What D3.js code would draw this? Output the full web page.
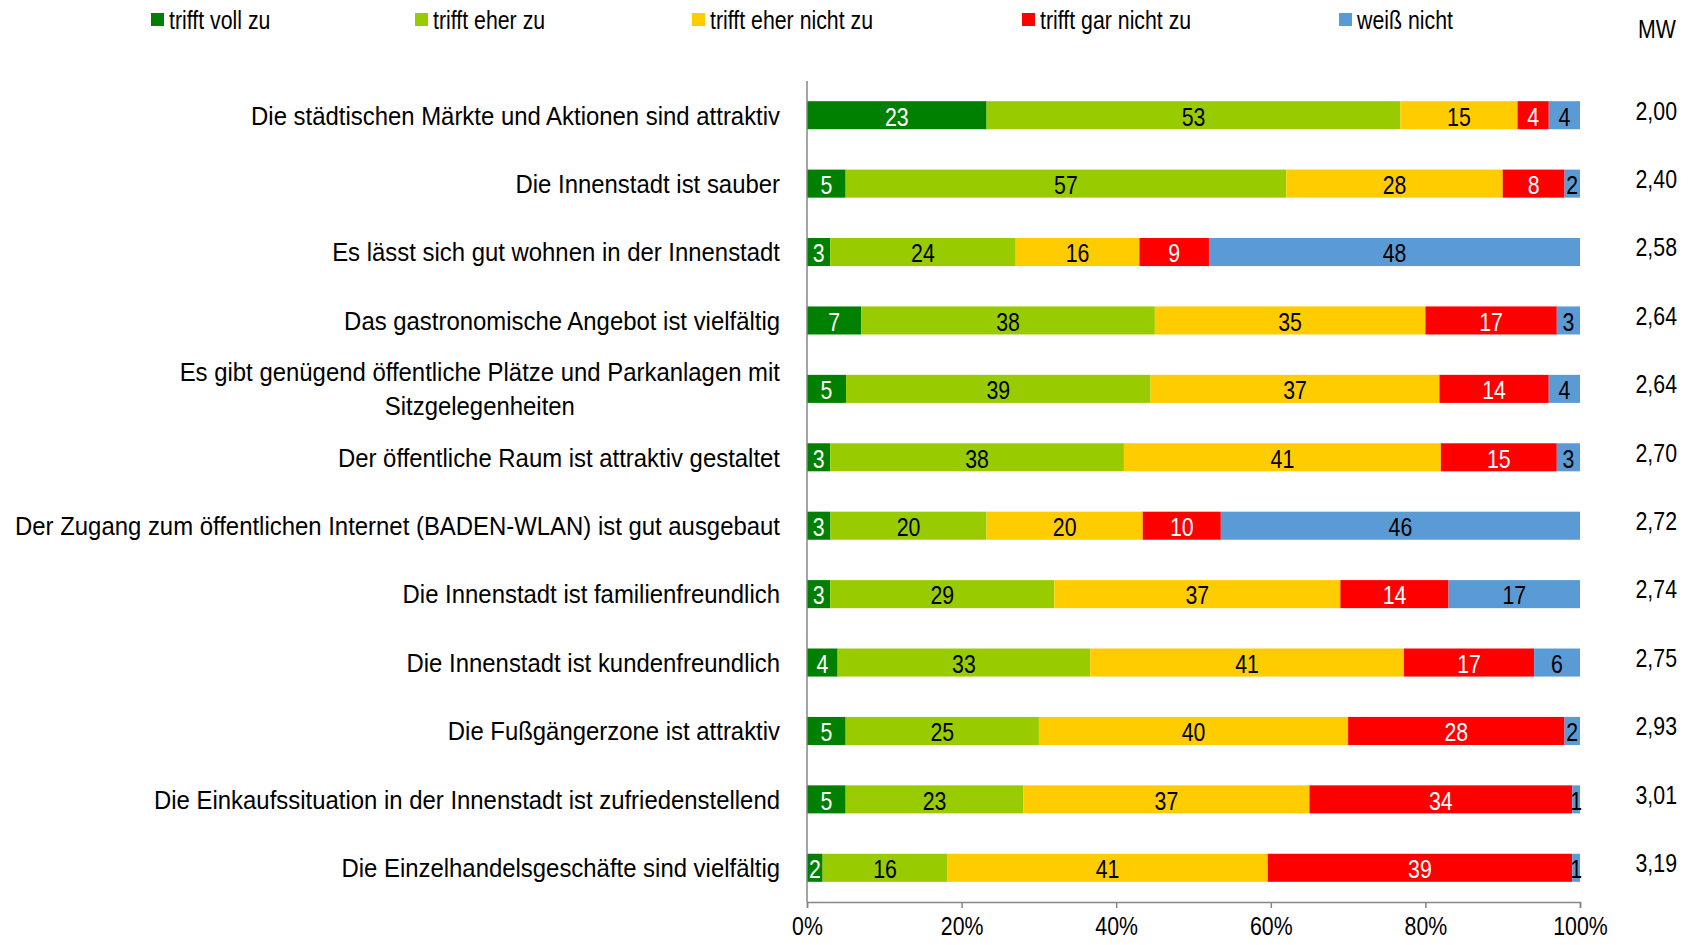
<!DOCTYPE html>
<html lang="de">
<head>
<meta charset="UTF-8">
<title>Innenstadt Bewertung</title>
<script src="https://cdn.jsdelivr.net/npm/d3@7"></script>
<style>
  body, html { margin: 0; background: #fff; }
  svg { display: block; font-family: "Liberation Sans", Arial, sans-serif; }
</style>
</head>
<body>
<svg width="1691" height="945"></svg>
<script>
const statements = [
  "Die städtischen Märkte und Aktionen sind attraktiv",
  "Die Innenstadt ist sauber",
  "Es lässt sich gut wohnen in der Innenstadt",
  "Das gastronomische Angebot ist vielfältig",
  "Es gibt genügend öffentliche Plätze und Parkanlagen mit|Sitzgelegenheiten",
  "Der öffentliche Raum ist attraktiv gestaltet",
  "Der Zugang zum öffentlichen Internet (BADEN-WLAN) ist gut ausgebaut",
  "Die Innenstadt ist familienfreundlich",
  "Die Innenstadt ist kundenfreundlich",
  "Die Fußgängerzone ist attraktiv",
  "Die Einkaufssituation in der Innenstadt ist zufriedenstellend",
  "Die Einzelhandelsgeschäfte sind vielfältig"
];
const seriesNames = ["trifft voll zu", "trifft eher zu", "trifft eher nicht zu", "trifft gar nicht zu", "weiß nicht"];
const seriesColors = ["#008000", "#99cc00", "#ffcc00", "#ff0000", "#5b9bd5"];
const labelColors = ["#fff", "#000", "#000", "#fff", "#000"];
const triffVoll      = [23, 5, 3, 7, 5, 3, 3, 3, 4, 5, 5, 2];
const triffEher      = [53, 57, 24, 38, 39, 38, 20, 29, 33, 25, 23, 16];
const triffEherNicht = [15, 28, 16, 35, 37, 41, 20, 37, 41, 40, 37, 41];
const triffGarNicht  = [4, 8, 9, 17, 14, 15, 10, 14, 17, 28, 34, 39];
const weissNicht     = [4, 2, 48, 3, 4, 3, 46, 17, 6, 2, 1, 1];
const mw = ["2,00", "2,40", "2,58", "2,64", "2,64", "2,70", "2,72", "2,74", "2,75", "2,93", "3,01", "3,19"];
const xTicks = [0, 0.2, 0.4, 0.6, 0.8, 1];

const NARROW = 0.82;      // Arial Narrow look: Liberation Sans squeezed horizontally
const NARROW_CAT = 0.92;  // category labels are a bit wider

const seriesData = [triffVoll, triffEher, triffEherNicht, triffGarNicht, weissNicht];
const rows = statements.map((s, i) => {
  const vals = seriesData.map(a => a[i]);
  const total = d3.sum(vals);
  let acc = 0;
  const segs = vals.map((v, k) => {
    const seg = {k, v, x0: acc / total, x1: (acc + v) / total};
    acc += v;
    return seg;
  });
  return {s, i, segs};
});

// text helper: places a narrowed text at (tx, ty)
function ntext(parent, tx, ty, str, size, anchor, sx) {
  return parent.append("text")
    .attr("transform", `translate(${tx},${ty}) scale(${sx || NARROW},1)`)
    .attr("dy", "0.36em").attr("font-size", size)
    .attr("text-anchor", anchor || "start").attr("fill", "#000").text(str);
}

const svg = d3.select("svg");
const x = d3.scaleLinear().domain([0, 1]).range([807, 1580]);
const y = d3.scaleBand().domain(d3.range(statements.length)).range([81, 902]).paddingInner(0.59).paddingOuter(0.295);

// bars
const row = svg.append("g").selectAll("g.row").data(rows).join("g").attr("class", "row")
  .attr("transform", d => `translate(0,${y(d.i)})`);
row.selectAll("rect").data(d => d.segs).join("rect")
  .attr("x", d => x(d.x0)).attr("width", d => x(d.x1) - x(d.x0))
  .attr("y", 0).attr("height", y.bandwidth())
  .attr("fill", d => seriesColors[d.k]);
row.each(function(d) {
  const r = d3.select(this);
  d.segs.forEach(s => {
    ntext(r, (x(s.x0) + x(s.x1)) / 2, y.bandwidth() / 2 + 1, s.v, 26, "middle")
      .attr("fill", labelColors[s.k]);
  });
});

// x axis
const ax = svg.append("g").attr("transform", "translate(0,902)")
  .call(d3.axisBottom(x).tickValues(xTicks).tickFormat(d3.format(".0%")).tickSize(6).tickPadding(9));
ax.attr("font-family", null);
ax.select(".domain").attr("stroke", "#868686").attr("stroke-width", 1.5);
ax.selectAll(".tick line").attr("stroke", "#868686").attr("stroke-width", 1.5);
ax.selectAll(".tick text").attr("font-size", 26).attr("fill", "#000")
  .attr("transform", `scale(${NARROW},1)`);

// y axis line
svg.append("line").attr("x1", x(0)).attr("x2", x(0)).attr("y1", 81).attr("y2", 902)
  .attr("stroke", "#868686").attr("stroke-width", 1.5);

// category labels (multi-line block right-aligned, lines centred)
const labelRight = 780;
statements.forEach((s, i) => {
  const lines = s.split("|");
  const cy = y(i) + y.bandwidth() / 2;
  const lineY = j => cy + (j - (lines.length - 1) / 2) * 34;
  const t = svg.append("g");
  const texts = lines.map((ln, j) => ntext(t, 0, lineY(j), ln, 26, "middle", NARROW_CAT));
  const w = d3.max(texts, tx => tx.node().getComputedTextLength()) * NARROW_CAT;
  texts.forEach((tx, j) => tx.attr("transform",
    `translate(${labelRight - w / 2},${lineY(j)}) scale(${NARROW_CAT},1)`));
});

// MW column
ntext(svg, 1657, 29, "MW", 26, "middle");
mw.forEach((v, i) => ntext(svg, 1677, y(i) + y.bandwidth() / 2 - 5, v, 26, "end"));

// legend
const legX = [151, 415, 692, 1022, 1339];
seriesNames.forEach((name, i) => {
  const lg = svg.append("g").attr("transform", `translate(${legX[i]},20)`);
  lg.append("rect").attr("x", 0).attr("y", -7).attr("width", 13).attr("height", 13)
    .attr("fill", seriesColors[i]);
  ntext(lg, 18, 0, name, 26, "start");
});
</script>
</body>
</html>
